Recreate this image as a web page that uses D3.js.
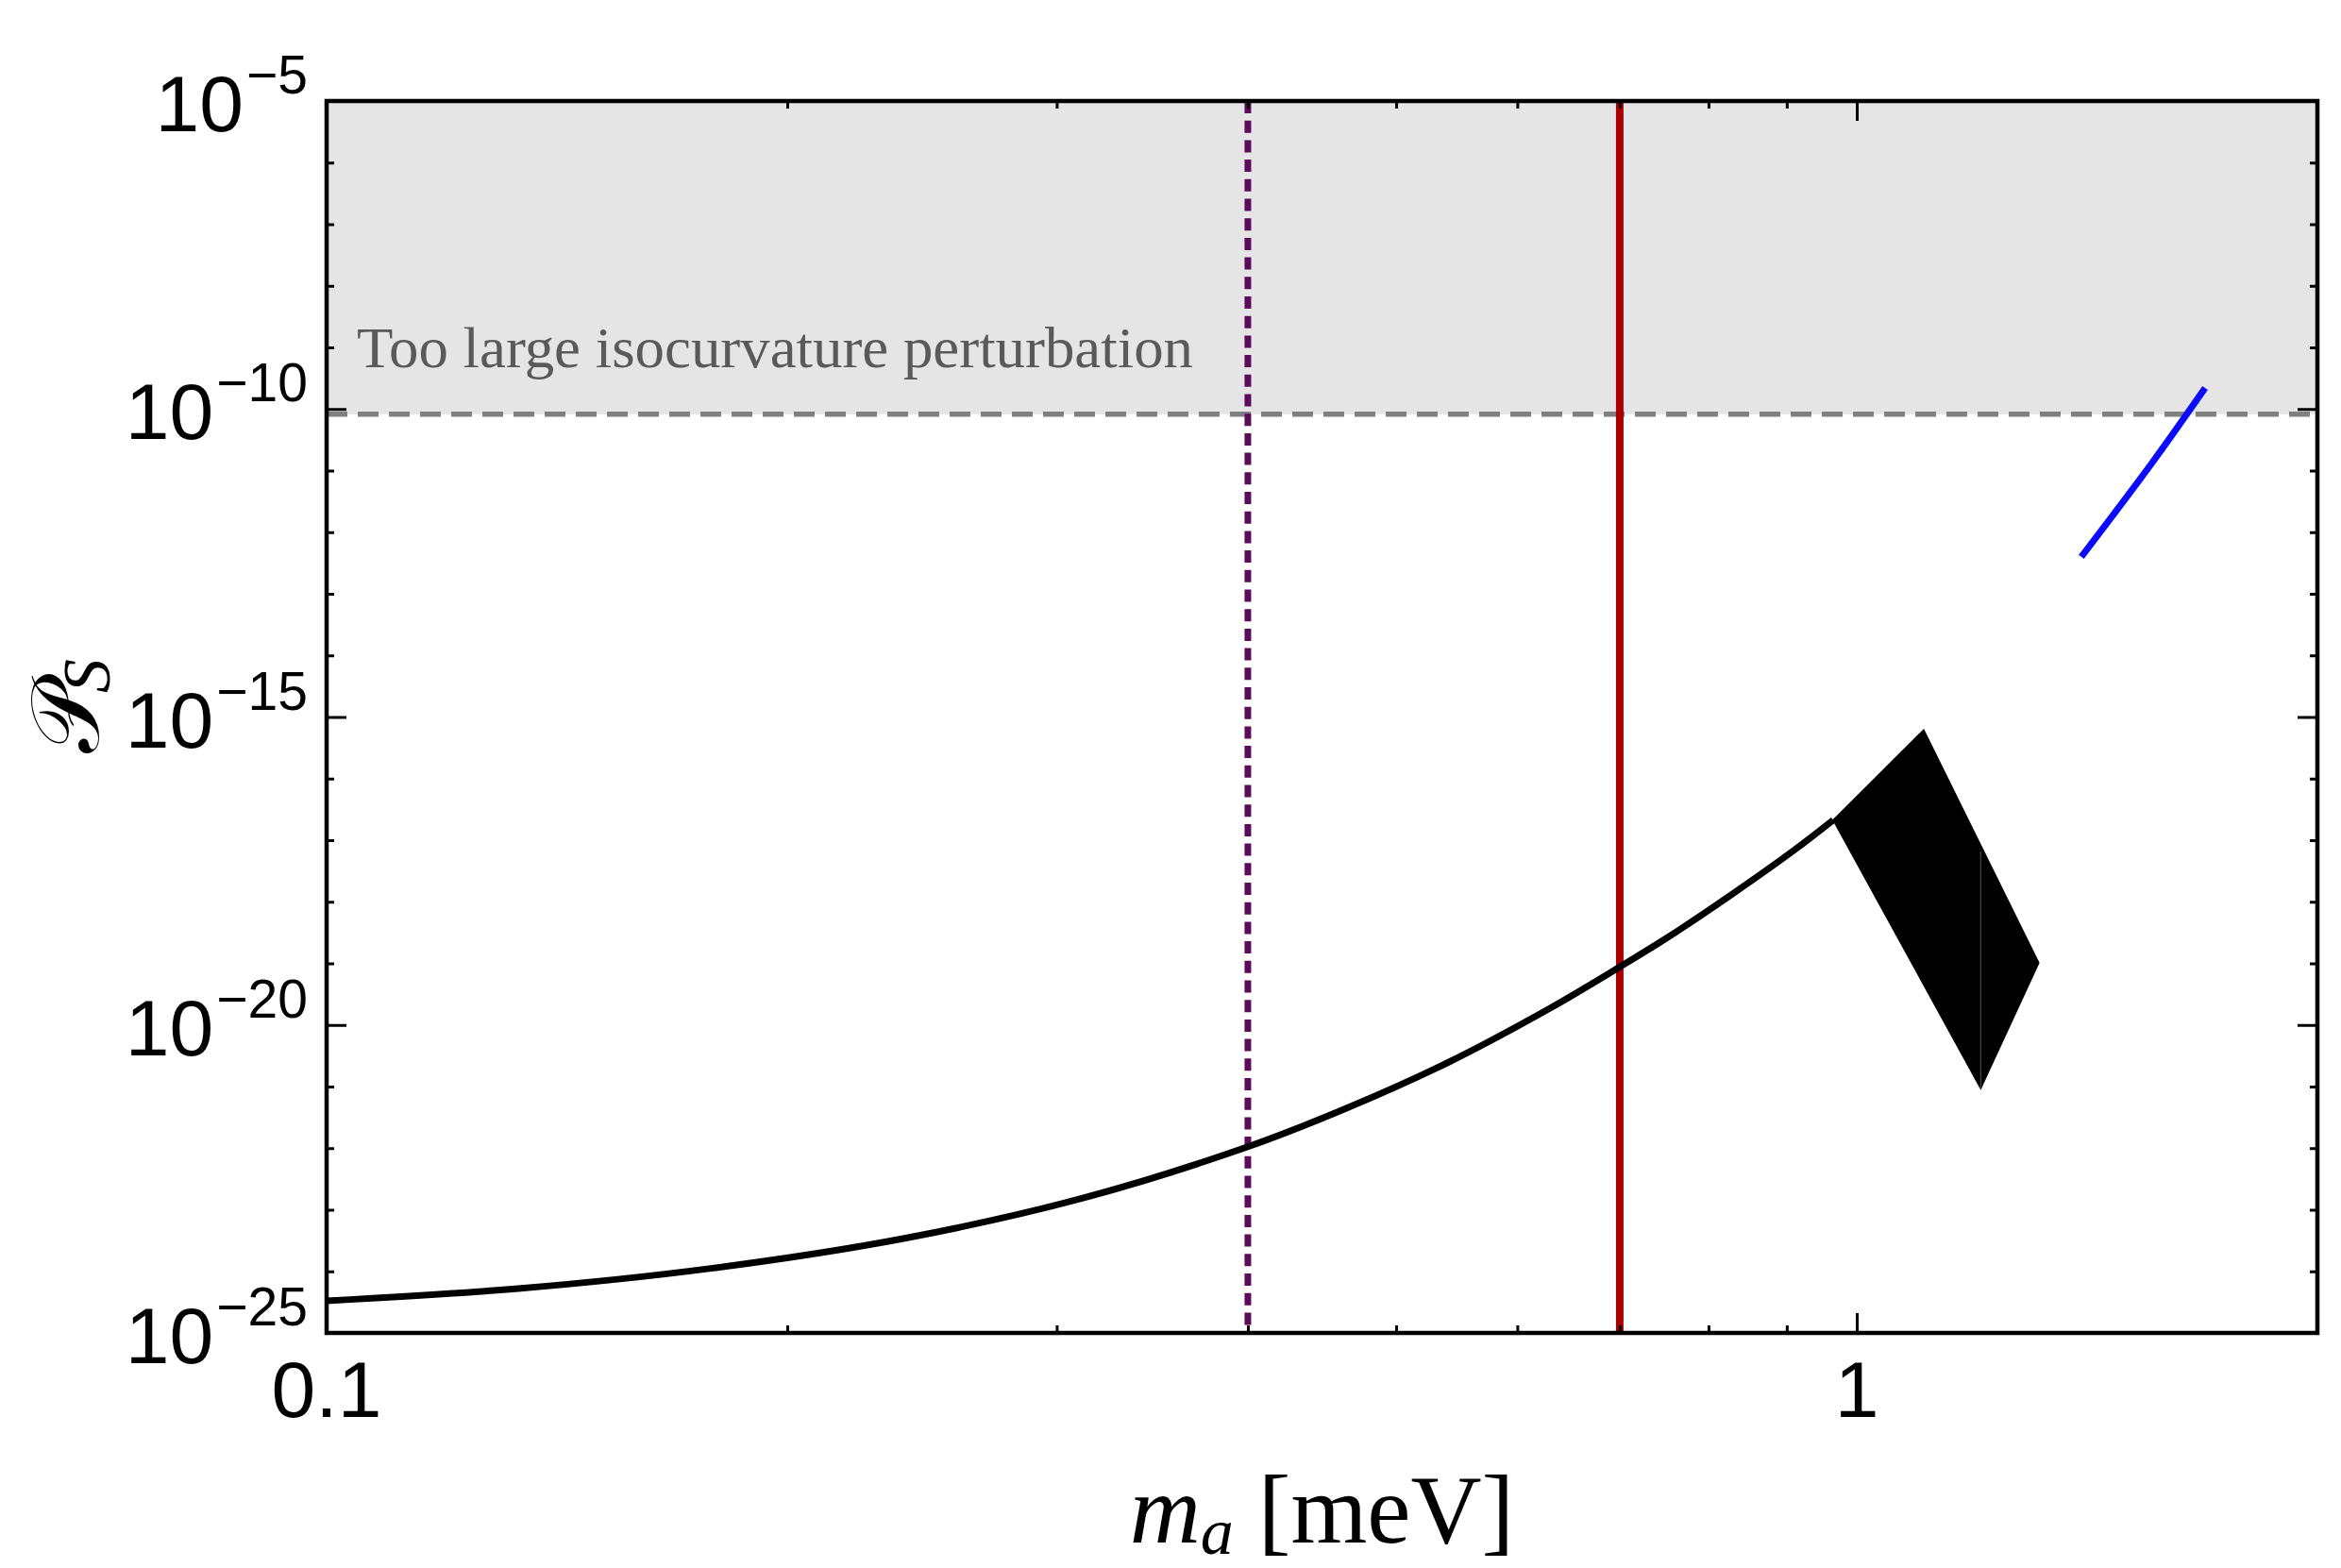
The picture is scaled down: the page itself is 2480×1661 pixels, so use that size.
<!doctype html>
<html lang="en">
<head>
  <meta charset="utf-8">
  <title>isocurvature</title>
  <style>
    body { margin: 0; background: #fff; }
    .tick line { stroke: #000; stroke-width: 3; }
    .tick text { display: none; }
    .domain { display: none; }
    .ticklabel { font-family: "Liberation Sans", Arial, sans-serif; fill: #000; }
    .title { font-family: "Liberation Serif", "Times New Roman", serif; fill: #000; }
  </style>
</head>
<body>
  <div class="chart"></div>
  <script src="https://d3js.org/d3.v7.min.js"></script>
  <script>
    'use strict';

    // black curve: P_S vs m_a [meV]
    const curveMass = [0.1, 0.1334, 0.1783, 0.2382, 0.3112, 0.4, 0.4631, 0.5406, 0.6303,
      0.7, 0.7527, 0.8266, 0.9093, 0.9651];
    const curveP = [3.32e-25, 5.25e-25, 1.117e-24, 3.41e-24, 1.517e-23, 1.052e-22, 4.35e-22, 2.46e-21, 1.871e-20,
      8.75e-20, 2.66e-19, 1.265e-18, 6.78e-18, 2.12e-17];

    // filled black band
    const bandMass = [0.9651, 1.106, 1.315, 1.205];
    const bandP = [2.12e-17, 6.17e-16, 1.02e-19, 9.33e-22];
    const seamMass = [1.205, 1.205];
    const seamP = [6.6e-18, 9.33e-22];

    // blue segment
    const blueMass = [1.402, 1.56, 1.689];
    const blueP = [3.98e-13, 1.35e-11, 2.19e-10];

    const isoBound = 8.2e-11;
    const purpleMass = 0.4;
    const redMass = 0.7;

    const xMajor = [0.1, 1];
    const xMajorLabels = ['0.1', '1'];
    const xMinor = [0.2, 0.3, 0.4, 0.5, 0.6, 0.7, 0.8, 0.9];
    const yMajorExp = [-5, -10, -15, -20, -25];
    const yMinorExp = d3.range(-6, -25, -1).filter(e => e % 5 !== 0);

    const W = 2480, H = 1661;
    const plot = {left: 346, right: 2455, top: 107, bottom: 1412};

    const xScale = d3.scaleLog().domain([0.1, 2]).range([plot.left, plot.right]);
    const yScale = d3.scaleLog().domain([1e-25, 1e-5]).range([plot.bottom, plot.top]);

    const svg = d3.select('.chart').append('svg')
      .attr('width', W)
      .attr('height', H);

    svg.append('clipPath').attr('id', 'clip')
      .append('rect')
      .attr('x', plot.left).attr('y', plot.top)
      .attr('width', plot.right - plot.left)
      .attr('height', plot.bottom - plot.top);

    // excluded region
    svg.append('rect')
      .attr('x', xScale(0.1))
      .attr('y', yScale(1e-5))
      .attr('width', xScale(2) - xScale(0.1))
      .attr('height', yScale(isoBound) - yScale(1e-5))
      .attr('fill', '#e5e5e5');

    svg.append('text')
      .attr('class', 'title')
      .attr('x', 378)
      .attr('y', 389)
      .attr('font-size', 62)
      .attr('textLength', 886)
      .attr('lengthAdjust', 'spacingAndGlyphs')
      .style('fill', '#5a5a5a')
      .text('Too large isocurvature perturbation');

    const g = svg.append('g').attr('clip-path', 'url(#clip)');

    g.append('line')
      .attr('x1', xScale(0.1)).attr('x2', xScale(2))
      .attr('y1', yScale(isoBound)).attr('y2', yScale(isoBound))
      .attr('stroke', '#808080')
      .attr('stroke-width', 5.5)
      .attr('stroke-dasharray', '22,11');

    g.append('line')
      .attr('x1', xScale(purpleMass)).attr('x2', xScale(purpleMass))
      .attr('y1', plot.top).attr('y2', plot.bottom)
      .attr('stroke', '#5c0a5a')
      .attr('stroke-width', 7)
      .attr('stroke-dasharray', '13,7.7');

    g.append('line')
      .attr('x1', xScale(redMass)).attr('x2', xScale(redMass))
      .attr('y1', plot.top).attr('y2', plot.bottom)
      .attr('stroke', '#aa0000')
      .attr('stroke-width', 8);

    const line = d3.line()
      .x(d => xScale(d[0]))
      .y(d => yScale(d[1]))
      .curve(d3.curveCatmullRom.alpha(0.5));

    g.append('path')
      .datum(d3.zip(curveMass, curveP))
      .attr('d', line)
      .attr('fill', 'none')
      .attr('stroke', '#000')
      .attr('stroke-width', 7);

    const poly = d3.line()
      .x(d => xScale(d[0]))
      .y(d => yScale(d[1]));

    g.append('path')
      .datum(d3.zip(bandMass, bandP))
      .attr('d', d => poly(d) + 'Z')
      .attr('fill', '#000')
      .attr('stroke', '#000')
      .attr('stroke-width', 1.5)
      .attr('stroke-linejoin', 'miter');

    g.append('path')
      .datum(d3.zip(seamMass, seamP))
      .attr('d', poly)
      .attr('stroke', '#555')
      .attr('stroke-width', 1);

    g.append('path')
      .datum(d3.zip(blueMass, blueP))
      .attr('d', line)
      .attr('fill', 'none')
      .attr('stroke', '#0a0aff')
      .attr('stroke-width', 7);

    // ticks on all four sides, pointing inward
    function drawTicks(axisFn, scale, values, size, transform) {
      svg.append('g')
        .attr('transform', transform)
        .call(axisFn(scale).tickValues(values).tickSize(-size).tickFormat(''));
    }
    const yMaj = yMajorExp.map(e => Math.pow(10, e));
    const yMin = yMinorExp.map(e => Math.pow(10, e));
    drawTicks(d3.axisBottom, xScale, xMajor, 21, `translate(0,${plot.bottom})`);
    drawTicks(d3.axisBottom, xScale, xMinor, 8, `translate(0,${plot.bottom})`);
    drawTicks(d3.axisTop, xScale, xMajor, 21, `translate(0,${plot.top})`);
    drawTicks(d3.axisTop, xScale, xMinor, 8, `translate(0,${plot.top})`);
    drawTicks(d3.axisLeft, yScale, yMaj, 21, `translate(${plot.left},0)`);
    drawTicks(d3.axisLeft, yScale, yMin, 8, `translate(${plot.left},0)`);
    drawTicks(d3.axisRight, yScale, yMaj, 21, `translate(${plot.right},0)`);
    drawTicks(d3.axisRight, yScale, yMin, 8, `translate(${plot.right},0)`);

    svg.append('rect')
      .attr('x', plot.left).attr('y', plot.top)
      .attr('width', plot.right - plot.left)
      .attr('height', plot.bottom - plot.top)
      .attr('fill', 'none')
      .attr('stroke', '#000')
      .attr('stroke-width', 4.5);

    // tick labels
    svg.selectAll('.xlab')
      .data(xMajor)
      .enter().append('text')
      .attr('class', 'ticklabel xlab')
      .attr('x', d => xScale(d))
      .attr('y', 1501)
      .attr('text-anchor', 'middle')
      .attr('font-size', 84)
      .text((d, i) => xMajorLabels[i]);

    yMajorExp.forEach(e => {
      const t = svg.append('text')
        .attr('class', 'ticklabel')
        .attr('x', 326)
        .attr('y', yScale(Math.pow(10, e)) + 32)
        .attr('text-anchor', 'end')
        .attr('font-size', 84);
      t.append('tspan').text('10');
      t.append('tspan')
        .attr('dx', 3)
        .attr('dy', -40)
        .attr('font-size', 57)
        .text('\u2212' + Math.abs(e));
    });

    // axis titles
    const xt = svg.append('text')
      .attr('class', 'title')
      .attr('x', (plot.left + plot.right) / 2)
      .attr('y', 1634)
      .attr('text-anchor', 'middle')
      .attr('font-size', 104);
    xt.append('tspan').attr('font-style', 'italic').text('m');
    xt.append('tspan').attr('font-style', 'italic').attr('font-size', 70).attr('dy', 12).text('a');
    xt.append('tspan').attr('dy', -12).text(' [meV]');

    const yt = svg.append('text')
      .attr('class', 'title')
      .attr('transform', `translate(104,748) rotate(-90)`)
      .attr('text-anchor', 'middle')
      .attr('font-size', 102);
    yt.append('tspan').style('font-family', '"DejaVu Serif", "DejaVu Sans", serif').text('\u{1D4AB}');
    yt.append('tspan').attr('font-style', 'italic').attr('font-size', 72).attr('dx', -10).attr('dy', 12).text('S');
  </script>
</body>
</html>
